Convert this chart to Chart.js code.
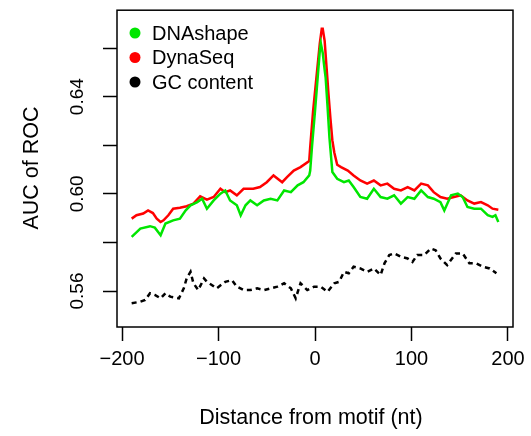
<!DOCTYPE html>
<html>
<head>
<meta charset="utf-8">
<script src="https://cdn.jsdelivr.net/npm/chart.js@4.4.1/dist/chart.umd.min.js"></script>
<style>
  html, body { margin: 0; padding: 0; background: #fff; }
</style>
</head>
<body>
<canvas id="myChart" width="531" height="436"></canvas>
<script>
// positions (nt) and AUC values
const dnaShapePos = [-190,-181,-171,-166,-160,-155,-147,-140,-134,-129,-122,-117,-112,-105,-98,-93,-88,-81,-77,-72,-67,-60,-53,-46,-39,-32,-25,-18,-12,-6,-5,-3,0,3,5,6,8,10,11,13,15,18,23,30,35,40,47,54,61,68,75,82,89,96,103,110,117,123,130,134,141,148,153,158,165,172,179,184,187,190];
const dnaShapeAuc = [0.5823,0.5857,0.5867,0.5861,0.5830,0.5878,0.5891,0.5898,0.5932,0.5953,0.5966,0.5980,0.5939,0.5973,0.6001,0.6014,0.5973,0.5953,0.5912,0.5953,0.5973,0.5953,0.5973,0.5980,0.5973,0.6014,0.6007,0.6035,0.6048,0.6076,0.6095,0.620,0.634,0.649,0.659,0.662,0.658,0.651,0.648,0.636,0.623,0.609,0.6062,0.6048,0.6055,0.6028,0.5987,0.5980,0.6021,0.5987,0.5980,0.5994,0.5960,0.5987,0.5980,0.6014,0.5987,0.5980,0.5966,0.5932,0.5994,0.6001,0.5987,0.5946,0.5939,0.5939,0.5912,0.5905,0.5912,0.5884];

const dynaSeqPos = [-190,-185,-178,-173,-168,-164,-160,-157,-152,-147,-140,-133,-126,-119,-112,-105,-98,-93,-88,-81,-74,-64,-57,-50,-43,-34,-29,-22,-15,-6,-5,-2,1,3,5,7,8,10,12,14,16,18,20,23,27,34,40,47,54,61,68,75,82,89,96,103,110,117,123,130,137,144,151,158,165,172,179,184,190];
const dynaSeqAuc = [0.5898,0.5912,0.5919,0.5932,0.5921,0.5898,0.5884,0.5891,0.5912,0.5939,0.5943,0.5949,0.5960,0.5990,0.5976,0.5987,0.6021,0.6007,0.6014,0.5994,0.6021,0.6021,0.6028,0.6048,0.6076,0.6048,0.6069,0.6096,0.6110,0.6135,0.619,0.634,0.646,0.654,0.662,0.668,0.668,0.663,0.652,0.641,0.631,0.622,0.617,0.612,0.6110,0.6096,0.6076,0.6055,0.6042,0.6055,0.6035,0.6042,0.6021,0.6014,0.6028,0.6014,0.6042,0.6035,0.6007,0.5987,0.5980,0.5987,0.5994,0.5973,0.5960,0.5966,0.5953,0.5939,0.5935];

const gcPos = [-190,-181,-176,-171,-166,-160,-155,-150,-141,-136,-133,-129,-126,-121,-115,-112,-107,-102,-93,-86,-81,-74,-67,-60,-53,-46,-39,-32,-25,-20,-15,-8,-1,6,13,20,25,30,35,40,47,54,61,68,72,77,82,89,96,101,106,113,120,125,130,137,146,153,160,167,174,181,188];
const gcAuc = [0.5550,0.5556,0.5563,0.5591,0.5584,0.5570,0.5591,0.5577,0.5570,0.5611,0.5652,0.5679,0.5632,0.5604,0.5652,0.5638,0.5625,0.5611,0.5638,0.5645,0.5618,0.5604,0.5604,0.5611,0.5604,0.5611,0.5618,0.5632,0.5611,0.5570,0.5632,0.5604,0.5618,0.5618,0.5597,0.5632,0.5638,0.5679,0.5673,0.5700,0.5693,0.5679,0.5693,0.5666,0.5714,0.5748,0.5755,0.5741,0.5734,0.5720,0.5748,0.5748,0.5775,0.5768,0.5734,0.5707,0.5755,0.5755,0.5714,0.5714,0.5700,0.5693,0.5673];

const seriesNames = ['DNAshape', 'DynaSeq', 'GC content'];
const xTicks = [-200, -100, 0, 100, 200];
const yTicks = [0.56, 0.58, 0.60, 0.62, 0.64, 0.66];
const yLabels = [0.56, 0.60, 0.64];

const FONT = '"Liberation Sans", Arial, Helvetica, sans-serif';

function pts(xs, ys) {
    return xs.map((x, i) => ({ x: x, y: ys[i] }));
}

// box, rotated y labels, axis titles and the legend, R style
const rStyle = {
    id: 'rStyle',
    afterDraw(chart) {
        const { ctx, chartArea: a, scales } = chart;
        ctx.save();
        ctx.strokeStyle = '#000';
        ctx.lineWidth = 1.5;
        ctx.strokeRect(a.left, a.top, a.right - a.left, a.bottom - a.top);

        ctx.fillStyle = '#000';
        ctx.textAlign = 'center';
        ctx.textBaseline = 'middle';
        ctx.font = '19px ' + FONT;
        yLabels.forEach(v => {
            const y = scales.y.getPixelForValue(v);
            ctx.save();
            ctx.translate(78, y);
            ctx.rotate(-Math.PI / 2);
            ctx.fillText(v.toFixed(2), 0, 0);
            ctx.restore();
        });

        ctx.font = '21.5px ' + FONT;
        ctx.fillText('Distance from motif (nt)', 311, 418);
        ctx.save();
        ctx.translate(32, 168);
        ctx.rotate(-Math.PI / 2);
        ctx.fillText('AUC of ROC', 0, 0);
        ctx.restore();

        // legend
        ctx.textAlign = 'left';
        ctx.font = '20px ' + FONT;
        chart.data.datasets.forEach((ds, i) => {
            const y = 33 + i * 24.5;
            ctx.beginPath();
            ctx.arc(135, y, 5.5, 0, Math.PI * 2);
            ctx.fillStyle = ds.legendColor;
            ctx.fill();
            ctx.fillStyle = '#000';
            ctx.fillText(ds.label, 152, y + 1);
        });
        ctx.restore();
    }
};

const ctx = document.getElementById('myChart').getContext('2d');
new Chart(ctx, {
    type: 'line',
    data: {
        datasets: [
            { label: seriesNames[0], data: pts(dnaShapePos, dnaShapeAuc), borderColor: '#00e600', legendColor: '#00e600', borderWidth: 2.5 },
            { label: seriesNames[1], data: pts(dynaSeqPos, dynaSeqAuc), borderColor: '#ff0000', legendColor: '#ff0000', borderWidth: 2.5 },
            { label: seriesNames[2], data: pts(gcPos, gcAuc), borderColor: '#000000', legendColor: '#000000', borderWidth: 2.5, borderDash: [5, 4] }
        ]
    },
    options: {
        responsive: false,
        animation: false,
        layout: { padding: { top: 9, right: 18, left: 0, bottom: 0 } },
        elements: { point: { radius: 0 }, line: { tension: 0 } },
        plugins: { legend: { display: false }, tooltip: { enabled: false } },
        scales: {
            x: {
                type: 'linear',
                min: -205.2,
                max: 205.2,
                afterBuildTicks: s => { s.ticks = xTicks.map(v => ({ value: v })); },
                afterFit: s => { s.height = 109; },
                border: { display: false },
                grid: { drawOnChartArea: false, tickLength: 14, tickColor: '#000', tickWidth: 1.5 },
                ticks: {
                    color: '#000',
                    font: { size: 20, family: FONT },
                    padding: 6,
                    maxRotation: 0,
                    callback: v => v < 0 ? '\u2212' + Math.abs(v) : String(v)
                }
            },
            y: {
                min: 0.5452,
                max: 0.6756,
                afterBuildTicks: s => { s.ticks = yTicks.map(v => ({ value: v })); },
                afterFit: s => { s.width = 117; },
                border: { display: false },
                grid: { drawOnChartArea: false, tickLength: 14, tickColor: '#000', tickWidth: 1.5 },
                ticks: { callback: () => '' }
            }
        }
    },
    plugins: [rStyle]
});
</script>
</body>
</html>
